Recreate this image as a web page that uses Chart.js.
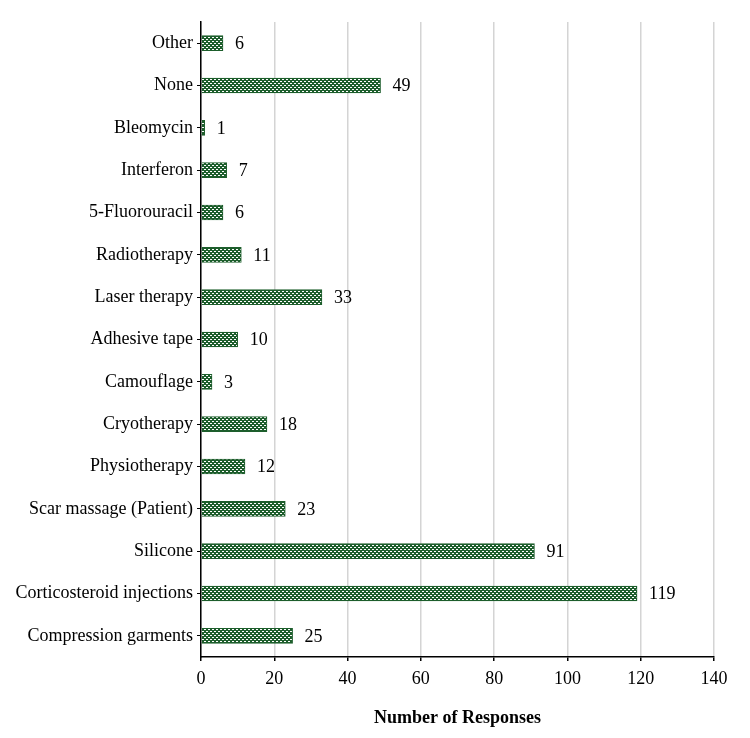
<!DOCTYPE html>
<html>
<head>
<meta charset="utf-8">
<script src="https://cdn.jsdelivr.net/npm/chart.js@4"></script>
<style>
  html, body { margin: 0; padding: 0; background: #fff; }
  #wrap { width: 750px; height: 738px; }
</style>
</head>
<body>
<div id="wrap"><canvas id="myChart" width="750" height="738"></canvas></div>
<script>
var categories = ['Other', 'None', 'Bleomycin', 'Interferon', '5-Fluorouracil', 'Radiotherapy',
  'Laser therapy', 'Adhesive tape', 'Camouflage', 'Cryotherapy', 'Physiotherapy',
  'Scar massage (Patient)', 'Silicone', 'Corticosteroid injections', 'Compression garments'];
var responses = [6, 49, 1, 7, 6, 11, 33, 10, 3, 18, 12, 23, 91, 119, 25];
var xTicks = [0, 20, 40, 60, 80, 100, 120, 140];

// checkered green fill like the original
function makePattern() {
  var c = document.createElement('canvas');
  c.width = 4; c.height = 4;
  var g = c.getContext('2d');
  g.fillStyle = '#1d5e2c';
  g.fillRect(0, 0, 4, 4);
  g.fillStyle = '#ffffff';
  g.fillRect(0, 1, 2, 1);
  g.fillRect(2, 3, 2, 1);
  return g.createPattern(c, 'repeat');
}

var serif = "'Liberation Serif', 'Times New Roman', serif";

var valueLabels = {
  id: 'valueLabels',
  afterDatasetsDraw: function(chart) {
    var ctx = chart.ctx;
    var meta = chart.getDatasetMeta(0);
    ctx.save();
    ctx.font = '18px ' + serif;
    ctx.fillStyle = '#000';
    ctx.textAlign = 'left';
    ctx.textBaseline = 'middle';
    meta.data.forEach(function(bar, i) {
      ctx.fillText(String(responses[i]), bar.x + 12, bar.y + 1);
    });
    ctx.restore();
  }
};

var data = {
  labels: categories,
  datasets: [{
    label: 'Number of Responses',
    data: responses,
    backgroundColor: makePattern(),
    borderColor: '#1d5e2c',
    borderWidth: 1,
    barThickness: 15
  }]
};

const config = {
  type: 'bar',
  data: data,
  options: {
    indexAxis: 'y',
    responsive: false,
    animation: false,
    layout: { padding: { top: 22, right: 36, left: 0, bottom: 9 } },
    plugins: {
      legend: { display: false },
      tooltip: { enabled: false }
    },
    scales: {
      x: {
        min: 0,
        max: 140,
        afterBuildTicks: function(axis) {
          axis.ticks = xTicks.map(function(v) { return { value: v }; });
        },
        afterFit: function(axis) { axis.height = 72; },
        grid: {
          color: '#d4d4d4',
          lineWidth: 1.5,
          tickColor: '#000',
          tickLength: 4
        },
        border: { display: true, color: '#000', width: 1.5 },
        ticks: {
          color: '#000',
          font: { family: serif, size: 18 },
          padding: 7,
          maxRotation: 0
        },
        title: {
          display: true,
          text: 'Number of Responses',
          color: '#000',
          font: { family: serif, size: 18, weight: 'bold' },
          padding: { top: 10, bottom: 0 }
        }
      },
      y: {
        afterFit: function(axis) { axis.width = 201; },
        grid: {
          drawOnChartArea: false,
          offset: false,
          tickColor: '#000',
          tickLength: 4
        },
        border: { display: true, color: '#000', width: 1.5 },
        ticks: {
          color: '#000',
          font: { family: serif, size: 18 },
          padding: 4
        }
      }
    }
  },
  plugins: [valueLabels]
};

var ctx = document.getElementById('myChart').getContext('2d');
var chart = new Chart(ctx, config);
</script>
</body>
</html>
